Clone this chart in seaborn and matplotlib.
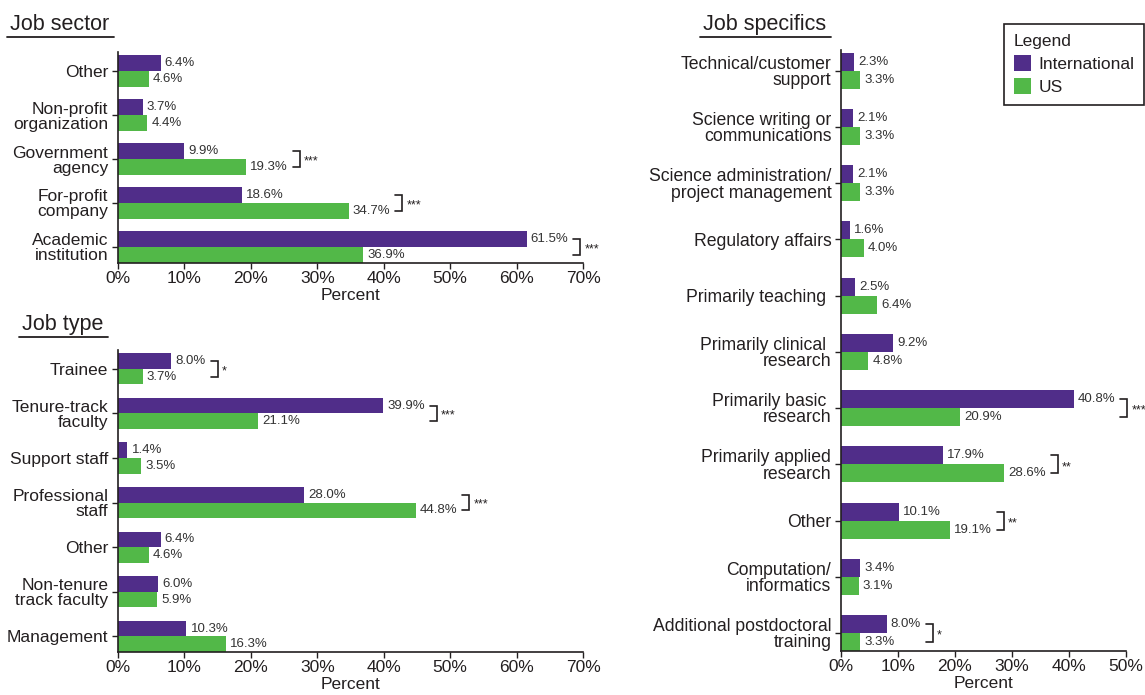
import numpy as np
import pandas as pd
import matplotlib
matplotlib.use("Agg")
import matplotlib.pyplot as plt
import seaborn as sns
from matplotlib.patches import Patch
from matplotlib.lines import Line2D

# ---------------- data ----------------
groups = ["International", "US"]

sector_cats = ["Other", "Non-profit\norganization", "Government\nagency",
               "For-profit\ncompany", "Academic\ninstitution"]
sector_intl = [6.4, 3.7, 9.9, 18.6, 61.5]
sector_us = [4.6, 4.4, 19.3, 34.7, 36.9]
sector_sig = ["", "", "***", "***", "***"]

type_cats = ["Trainee", "Tenure-track\nfaculty", "Support staff",
             "Professional\nstaff", "Other", "Non-tenure\ntrack faculty",
             "Management"]
type_intl = [8.0, 39.9, 1.4, 28.0, 6.4, 6.0, 10.3]
type_us = [3.7, 21.1, 3.5, 44.8, 4.6, 5.9, 16.3]
type_sig = ["*", "***", "", "***", "", "", ""]

spec_cats = ["Technical/customer\nsupport", "Science writing or\ncommunications",
             "Science administration/\nproject management", "Regulatory affairs",
             "Primarily teaching ", "Primarily clinical \nresearch",
             "Primarily basic \nresearch", "Primarily applied\nresearch", "Other",
             "Computation/\ninformatics", "Additional postdoctoral\ntraining"]
spec_intl = [2.3, 2.1, 2.1, 1.6, 2.5, 9.2, 40.8, 17.9, 10.1, 3.4, 8.0]
spec_us = [3.3, 3.3, 3.3, 4.0, 6.4, 4.8, 20.9, 28.6, 19.1, 3.1, 3.3]
spec_sig = ["", "", "", "", "", "", "***", "**", "**", "", "*"]

# ---------------- style ----------------
sns.set_style("ticks")
plt.rcParams["font.family"] = ["Liberation Sans", "DejaVu Sans"]
NARROW = ["Liberation Sans Narrow", "Liberation Sans", "DejaVu Sans"]
DARK = "#231f20"
TXT = "#333333"
palette = {"International": "#502d89", "US": "#52b848"}
plt.rcParams.update({
    "axes.edgecolor": DARK, "axes.linewidth": 1.2,
    "xtick.color": DARK, "ytick.color": DARK,
    "text.color": DARK, "axes.labelcolor": DARK,
})

W, H = 1145, 695
fig = plt.figure(figsize=(W / 100, H / 100), dpi=100)


def fx(px):
    return px / W


def fy(py):
    return 1 - py / H


def make_panel(rect, cats, intl, us, sig, xmax, width, top_pad, ticksize, tickfam, lsp):
    ax = fig.add_axes(rect)
    n = len(cats)
    df = pd.DataFrame({
        "category": cats * 2,
        "value": intl + us,
        "group": ["International"] * n + ["US"] * n,
    })
    sns.barplot(data=df, x="value", y="category", hue="group", order=cats,
                hue_order=groups, palette=palette, orient="h", width=width,
                saturation=1, legend=False, errorbar=None, linewidth=0,
                edgecolor="none", ax=ax)
    ax.set_xlim(0, xmax)
    ax.set_ylim(n - 1 + width / 2, -top_pad)
    ticks = np.arange(0, xmax + 1, 10)
    ax.set_xticks(ticks)
    ax.set_xticklabels([f"{t:.0f}%" for t in ticks], fontsize=12.5)
    ax.tick_params(axis="x", length=4, width=1, pad=2)
    ax.tick_params(axis="y", length=4, width=1, pad=3)
    for lab in ax.get_yticklabels():
        lab.set_fontsize(ticksize)
        lab.set_family(tickfam)
        lab.set_linespacing(lsp)
        lab.set_color(DARK)
    ax.set_ylabel("")
    ax.set_xlabel("Percent", fontsize=12.5, labelpad=1)
    sns.despine(ax=ax)
    label_sets = []
    for cont, vals in zip(ax.containers, [intl, us]):
        texts = ax.bar_label(cont, labels=[f"{v:.1f}%" for v in vals],
                             padding=3, fontsize=9.5, color=TXT)
        label_sets.append(texts)
    return ax, label_sets, sig


panels = []
panels.append(make_panel([fx(118), fy(263), fx(583) - fx(118), fy(52) - fy(263)],
                         sector_cats, sector_intl, sector_us, sector_sig,
                         70, 0.73, 0.435, 12.5, NARROW, 1.0))
panels.append(make_panel([fx(118), fy(652), fx(583) - fx(118), fy(350) - fy(652)],
                         type_cats, type_intl, type_us, type_sig,
                         70, 0.70, 0.42, 12.5, NARROW, 1.0))
panels.append(make_panel([fx(841), fy(651), fx(1126) - fx(841), fy(50) - fy(651)],
                         spec_cats, spec_intl, spec_us, spec_sig,
                         50, 0.64, 0.37, 12.7, ["Liberation Sans", "DejaVu Sans"], 0.95))

# titles
titles = [("Job sector", 10, 30), ("Job type", 22, 330), ("Job specifics", 703, 30)]
title_objs = []
for t, x, y in titles:
    title_objs.append(fig.text(fx(x), fy(y), t, fontsize=15.5, ha="left",
                               va="baseline", color=DARK))

# legend
handles = [Patch(facecolor=palette[g], edgecolor="none", label=g) for g in groups]
leg = fig.legend(handles=handles, title="Legend", loc="upper left",
                 bbox_to_anchor=(fx(1004), fy(24)), fontsize=12.5,
                 title_fontsize=12.5, frameon=True, fancybox=False,
                 edgecolor=DARK, framealpha=1, borderpad=0.55,
                 handlelength=1.0, handleheight=1.0, handletextpad=0.45,
                 labelspacing=0.38, alignment="left", borderaxespad=0)
leg.get_frame().set_linewidth(1.2)

fig.canvas.draw()
renderer = fig.canvas.get_renderer()
inv = fig.transFigure.inverted()

# underlines under titles
for tobj in title_objs:
    bb = tobj.get_window_extent(renderer)
    (x0, y0), (x1, y1) = inv.transform([(bb.x0 - 3, 0), (bb.x1 + 5, 0)])
    base = tobj.get_position()[1] - 7 / H
    fig.add_artist(Line2D([x0, x1], [base, base], color=DARK, lw=1.3,
                          transform=fig.transFigure))

# significance brackets
for ax, label_sets, sig in panels:
    dinv = ax.transData.inverted()
    c_int, c_us = ax.containers[0], ax.containers[1]
    for i, s in enumerate(sig):
        if not s:
            continue
        right = max(label_sets[0][i].get_window_extent(renderer).x1,
                    label_sets[1][i].get_window_extent(renderer).x1)
        p1, p2 = c_int.patches[i], c_us.patches[i]
        yc1 = p1.get_y() + p1.get_height() / 2
        yc2 = p2.get_y() + p2.get_height() / 2
        xa = dinv.transform((right + 5, 0))[0]
        xb = dinv.transform((right + 12, 0))[0]
        xs = dinv.transform((right + 16, 0))[0]
        ax.plot([xa, xb, xb, xa], [yc1, yc1, yc2, yc2], color=DARK, lw=1.2,
                clip_on=False, solid_joinstyle="miter")
        ax.text(xs, (yc1 + yc2) / 2 + 0.05, s, fontsize=9, ha="left",
                va="center", color=DARK, clip_on=False)

fig.savefig("out.png", dpi=100)
